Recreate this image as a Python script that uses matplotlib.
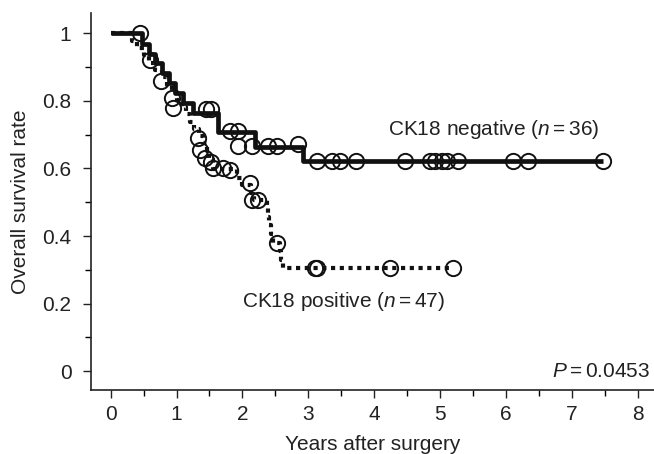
import matplotlib
matplotlib.use('Agg')
import matplotlib.pyplot as plt
import numpy as np

plt.rcParams['font.family'] = ['Liberation Sans', 'DejaVu Sans']
plt.rcParams['mathtext.fontset'] = 'custom'
plt.rcParams['mathtext.rm'] = 'Liberation Sans'
plt.rcParams['mathtext.it'] = 'Liberation Sans:italic'

# CK18 negative (n=36): step times / survival, censored marks
neg_t = [0, 0.47, 0.58, 0.68, 0.78, 0.88, 0.98, 1.10, 1.25, 1.63, 2.19, 2.92, 7.48]
neg_s = [1.0, 0.970, 0.940, 0.911, 0.882, 0.853, 0.823, 0.794, 0.764, 0.708, 0.664, 0.622, 0.622]
neg_cx = [0.44, 1.45, 1.53, 1.81, 1.93, 1.93, 2.14, 2.39, 2.52, 2.84, 3.13, 3.36, 3.48, 3.73,
          4.47, 4.85, 4.93, 5.03, 5.11, 5.28, 6.11, 6.34, 7.48]
neg_cy = [1.0, 0.775, 0.775, 0.71, 0.71, 0.667, 0.667, 0.667, 0.667, 0.672, 0.622, 0.622, 0.622, 0.622,
          0.622, 0.622, 0.622, 0.622, 0.622, 0.622, 0.622, 0.622, 0.622]

# CK18 positive (n=47)
pos_t = [0, 0.33, 0.40, 0.50, 0.58, 0.68, 0.78, 0.86, 0.93, 1.00, 1.08, 1.14, 1.20, 1.27,
         1.34, 1.40, 1.46, 1.50, 1.55, 1.92, 2.00, 2.13, 2.17, 2.37, 2.39, 2.41, 2.43, 2.47,
         2.57, 2.59, 2.61, 5.20]
pos_s = [1.0, 0.978, 0.957, 0.935, 0.913, 0.891, 0.870, 0.848, 0.826, 0.804, 0.783, 0.761, 0.739, 0.717,
         0.696, 0.674, 0.652, 0.628, 0.598, 0.572, 0.550, 0.528, 0.507, 0.483, 0.457, 0.432, 0.407, 0.38,
         0.355, 0.33, 0.305, 0.305]
pos_cx = [0.59, 0.77, 0.93, 0.94, 1.32, 1.35, 1.43, 1.53, 1.55, 1.70, 1.81, 2.11, 2.14, 2.24, 2.52,
          3.10, 3.13, 4.24, 5.20]
pos_cy = [0.92, 0.86, 0.81, 0.78, 0.69, 0.655, 0.63, 0.62, 0.60, 0.60, 0.595, 0.557, 0.507, 0.507, 0.38,
          0.305, 0.305, 0.305, 0.305]

fig = plt.figure(figsize=(6.54, 4.54), dpi=100)
ax = fig.add_axes([0.139, 0.141, 0.861, 0.830])

ax.step(neg_t, neg_s, where='post', color='#111111', lw=3.4, solid_capstyle='butt')
ax.step(pos_t, pos_s, where='post', color='#111111', lw=3.0,
        linestyle=(0, (1, 1.1)), dash_capstyle='butt')
ax.plot(neg_cx, neg_cy, 'o', ms=11, mfc='none', mec='#111111', mew=1.4)
ax.plot(pos_cx, pos_cy, 'o', ms=11, mfc='none', mec='#111111', mew=1.4)

fs = 15
ax.text(4.21, 0.714, r'CK18 negative ($n = 36$)', fontsize=fs, va='center', ha='left', color='#222222')
ax.text(2.0, 0.207, r'CK18 positive ($n = 47$)', fontsize=fs, va='center', ha='left', color='#222222')
ax.text(8.19, 0.0, r'$P = 0.0453$', fontsize=fs, va='center', ha='right', color='#222222')

ax.set_xlim(-0.30, 8.25)
ax.set_ylim(-0.056, 1.06)
ax.set_xticks(range(0, 9))
ax.set_xticks(np.arange(0.5, 8, 1), minor=True)
ax.set_yticks([0, 0.2, 0.4, 0.6, 0.8, 1])
ax.set_yticklabels(['0', '0.2', '0.4', '0.6', '0.8', '1'])
ax.set_yticks(np.arange(0.1, 1, 0.2), minor=True)
ax.tick_params(which='major', length=6, width=1.0, labelsize=fs, colors='#222222')
ax.tick_params(which='minor', length=4, width=1.0)
ax.tick_params(axis='y', pad=8)
ax.tick_params(axis='x', pad=5)

for s in ['top', 'right']:
    ax.spines[s].set_visible(False)
for s in ['left', 'bottom']:
    ax.spines[s].set_linewidth(1.2)
    ax.spines[s].set_color('#222222')

ax.set_xlabel('Years after surgery', fontsize=fs, color='#222222', labelpad=8)
ax.set_ylabel('Overall survival rate', fontsize=fs, color='#222222', labelpad=9)

fig.savefig('out.png', dpi=100)
